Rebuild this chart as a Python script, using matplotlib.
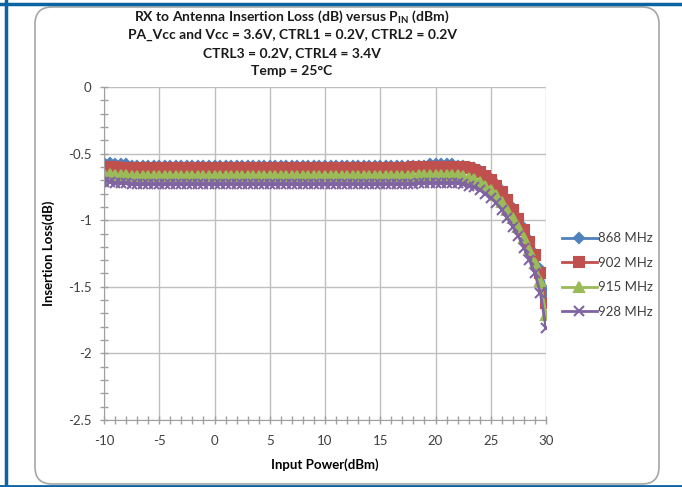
import numpy as np
import matplotlib.pyplot as plt
from matplotlib.patches import FancyBboxPatch
from matplotlib.lines import Line2D

# input power, dBm (measured every 0.5 dBm)
pin = np.arange(-10, 30.5, 0.5)

# insertion loss, dB
il_868 = [-0.57, -0.57, -0.58, -0.58, -0.58, -0.59, -0.59, -0.59, -0.59, -0.59,
          -0.59, -0.59, -0.59, -0.59, -0.59, -0.59, -0.59, -0.59, -0.59, -0.59,
          -0.59, -0.59, -0.59, -0.59, -0.59, -0.59, -0.59, -0.59, -0.59, -0.59,
          -0.59, -0.59, -0.59, -0.59, -0.59, -0.59, -0.59, -0.59, -0.59, -0.59,
          -0.59, -0.59, -0.59, -0.59, -0.59, -0.59, -0.59, -0.59, -0.59, -0.59,
          -0.59, -0.59, -0.59, -0.59, -0.59, -0.59, -0.59, -0.59, -0.59, -0.58,
          -0.58, -0.58, -0.58, -0.58, -0.59, -0.59, -0.60, -0.61, -0.63, -0.66,
          -0.69, -0.73, -0.78, -0.84, -0.91, -0.98, -1.06, -1.15, -1.25, -1.37,
          -1.53]
il_902 = [-0.60, -0.60, -0.60, -0.61, -0.61, -0.61, -0.61, -0.61, -0.61, -0.61,
          -0.61, -0.61, -0.61, -0.61, -0.61, -0.61, -0.61, -0.61, -0.61, -0.61,
          -0.61, -0.61, -0.61, -0.61, -0.61, -0.61, -0.61, -0.61, -0.61, -0.61,
          -0.61, -0.61, -0.61, -0.61, -0.61, -0.61, -0.61, -0.61, -0.61, -0.61,
          -0.61, -0.61, -0.61, -0.61, -0.61, -0.61, -0.61, -0.61, -0.61, -0.61,
          -0.61, -0.61, -0.61, -0.61, -0.61, -0.61, -0.60, -0.60, -0.60, -0.60,
          -0.60, -0.60, -0.60, -0.60, -0.60, -0.60, -0.61, -0.62, -0.64, -0.67,
          -0.70, -0.74, -0.79, -0.85, -0.92, -0.99, -1.07, -1.16, -1.26, -1.40,
          -1.62]
il_915 = [-0.65, -0.65, -0.66, -0.66, -0.66, -0.67, -0.67, -0.67, -0.67, -0.67,
          -0.67, -0.67, -0.67, -0.67, -0.67, -0.67, -0.67, -0.67, -0.67, -0.67,
          -0.67, -0.67, -0.67, -0.67, -0.67, -0.67, -0.67, -0.67, -0.67, -0.67,
          -0.67, -0.67, -0.67, -0.67, -0.67, -0.67, -0.67, -0.67, -0.67, -0.67,
          -0.67, -0.67, -0.67, -0.67, -0.67, -0.67, -0.67, -0.67, -0.67, -0.67,
          -0.67, -0.67, -0.67, -0.67, -0.67, -0.67, -0.67, -0.66, -0.66, -0.66,
          -0.66, -0.66, -0.66, -0.66, -0.66, -0.67, -0.68, -0.69, -0.71, -0.74,
          -0.77, -0.81, -0.86, -0.92, -0.98, -1.05, -1.13, -1.22, -1.32, -1.46,
          -1.71]
il_928 = [-0.71, -0.71, -0.72, -0.72, -0.72, -0.73, -0.73, -0.73, -0.73, -0.73,
          -0.73, -0.73, -0.73, -0.73, -0.73, -0.73, -0.73, -0.73, -0.73, -0.73,
          -0.73, -0.73, -0.73, -0.73, -0.73, -0.73, -0.73, -0.73, -0.73, -0.73,
          -0.73, -0.73, -0.73, -0.73, -0.73, -0.73, -0.73, -0.73, -0.73, -0.73,
          -0.73, -0.73, -0.73, -0.73, -0.73, -0.73, -0.73, -0.73, -0.73, -0.73,
          -0.73, -0.73, -0.73, -0.73, -0.73, -0.73, -0.73, -0.72, -0.72, -0.72,
          -0.72, -0.72, -0.72, -0.72, -0.72, -0.73, -0.74, -0.75, -0.77, -0.80,
          -0.83, -0.87, -0.92, -0.98, -1.05, -1.12, -1.21, -1.30, -1.40, -1.55,
          -1.81]

series = [("868 MHz", il_868, "#4F81BD", "D", 5.5),
          ("902 MHz", il_902, "#C0504D", "s", 6.5),
          ("915 MHz", il_915, "#9BBB59", "^", 6.5),
          ("928 MHz", il_928, "#8064A2", "x", 6.5)]

title_lines = ["RX to Antenna Insertion Loss (dB) versus P$_{\\mathregular{IN}}$ (dBm)",
               "PA_Vcc and Vcc = 3.6V, CTRL1 = 0.2V, CTRL2 = 0.2V",
               "CTRL3 = 0.2V, CTRL4 = 3.4V",
               "Temp = 25°C"]

plt.rcParams['font.family'] = ['Lato', 'DejaVu Sans']
plt.rcParams['axes.unicode_minus'] = False

fig = plt.figure(figsize=(6.82, 4.87), dpi=100)
W, H = 682, 487

# outer blue frame and chart area border
fig.add_artist(Line2D([6 / W, 6 / W], [0, 1], color="#0A64A4", lw=2.5))
fig.add_artist(Line2D([0, 1], [1 - 4 / H, 1 - 4 / H], color="#0A64A4", lw=2.5))
fig.add_artist(Line2D([0, 1], [1 / H, 1 / H], color="#0A64A4", lw=2.0))
fig.add_artist(FancyBboxPatch((35 / W, 3 / H), 624 / W, 477 / H,
                              boxstyle="round,pad=0,rounding_size=0.025",
                              transform=fig.transFigure, fill=False,
                              ec="#A6A6A6", lw=1.2, mutation_aspect=W / H))

ax = fig.add_axes([104 / W, 1 - 420 / H, 442 / W, 333 / H])

for name, vals, col, mk, ms in series:
    ax.plot(pin, vals, color=col, lw=2, marker=mk, ms=ms, mfc=col, mec=col,
            mew=1.5, label=name)

ax.set_xlim(-10, 30)
ax.set_ylim(-2.5, 0)
ax.set_xticks(np.arange(-10, 31, 5))
ax.set_yticks(np.arange(-2.5, 0.01, 0.5))
ax.set_yticklabels(["-2.5", "-2", "-1.5", "-1", "-0.5", "0"])
ax.set_xticks(np.arange(-10, 31, 1), minor=True)
ax.set_yticks(np.arange(-2.5, 0.01, 0.1), minor=True)
ax.grid(True, which="major", color="#BFBFBF", lw=1)
ax.set_axisbelow(True)
ax.tick_params(which="both", direction="inout", color="#A0A0A0", labelsize=9.5,
               labelcolor="#404040", length=6, width=1)
ax.tick_params(axis="x", pad=8)
ax.tick_params(axis="y", pad=6)
for side in ["top", "right"]:
    ax.spines[side].set_visible(False)
for side in ["left", "bottom"]:
    ax.spines[side].set_color("#A0A0A0")

ax.set_xlabel("Input Power(dBm)", fontsize=9.5, fontweight="bold", labelpad=8)
ax.set_ylabel("Insertion Loss(dB)", fontsize=9.5, fontweight="bold", labelpad=9)

for i, line in enumerate(title_lines):
    fig.text(292 / W, 1 - (17 + 18 * i) / H, line, ha="center", va="center",
             fontsize=10, fontweight="bold", color="#1A1A1A")

ax.legend(loc="center left", bbox_to_anchor=(1.01, 0.435), frameon=False,
          fontsize=9.5, handlelength=2.6, handletextpad=0.1, labelspacing=0.95,
          labelcolor="#404040")

fig.savefig("out.png", dpi=100)
